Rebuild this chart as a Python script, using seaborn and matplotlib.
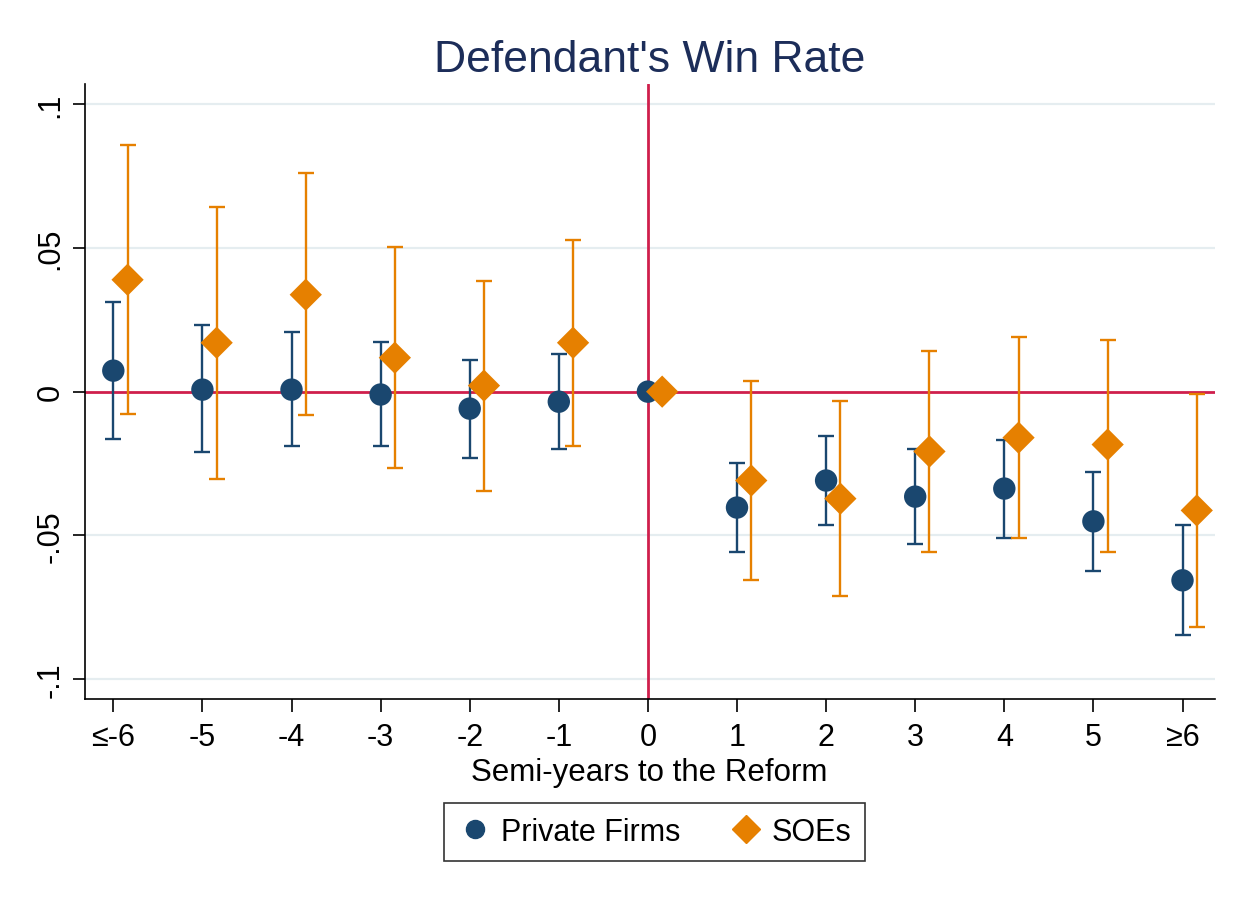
import numpy as np
import pandas as pd
import matplotlib
matplotlib.use("Agg")
import matplotlib.pyplot as plt
import seaborn as sns

# semi-years to the reform
periods = [-6, -5, -4, -3, -2, -1, 0, 1, 2, 3, 4, 5, 6]
tick_labels = ["≤-6", "-5", "-4", "-3", "-2", "-1", "0", "1", "2", "3", "4", "5", "≥6"]

# private firms: estimate and 95% CI
priv_est = [0.0073, 0.0007, 0.0007, -0.0010, -0.0059, -0.0035, 0.0, -0.0403, -0.0309, -0.0365, -0.0337, -0.0451, -0.0656]
priv_hi  = [0.0310, 0.0230, 0.0208, 0.0174, 0.0111, 0.0132, 0.0, -0.0247, -0.0153, -0.0201, -0.0167, -0.0278, -0.0465]
priv_lo  = [-0.0163, -0.0210, -0.0188, -0.0188, -0.0229, -0.0198, 0.0, -0.0559, -0.0462, -0.0528, -0.0510, -0.0625, -0.0847]

# SOEs: estimate and 95% CI
soe_est = [0.0389, 0.0170, 0.0337, 0.0118, 0.0021, 0.0170, 0.0, -0.0309, -0.0372, -0.0208, -0.0160, -0.0184, -0.0413]
soe_hi  = [0.0858, 0.0642, 0.0760, 0.0503, 0.0385, 0.0528, 0.0, 0.0038, -0.0031, 0.0142, 0.0191, 0.0180, -0.0007]
soe_lo  = [-0.0076, -0.0302, -0.0080, -0.0267, -0.0347, -0.0188, 0.0, -0.0656, -0.0712, -0.0556, -0.0510, -0.0556, -0.0820]

navy = "#1a476f"
orange = "#e68000"
red = "#cf1f4c"
grid_c = "#e5edf0"

sns.set_style("white")
plt.rcParams['font.family'] = ['Liberation Sans', 'DejaVu Sans']
plt.rcParams['text.color'] = 'black'
plt.rcParams['axes.labelcolor'] = 'black'
plt.rcParams['xtick.color'] = 'black'
plt.rcParams['ytick.color'] = 'black'

df = pd.DataFrame({
    "period": periods * 2,
    "est": priv_est + soe_est,
    "lo": priv_lo + soe_lo,
    "hi": priv_hi + soe_hi,
    "group": ["Private Firms"] * len(periods) + ["SOEs"] * len(periods),
})
offsets = {"Private Firms": 0.0, "SOEs": 0.16}
df["x"] = df["period"] + df["group"].map(offsets)

fig = plt.figure(figsize=(12.47, 9.03), dpi=100)
ax = fig.add_axes([0.068, 0.225, 0.906, 0.681])

for y in [-0.1, -0.05, 0.05, 0.1]:
    ax.axhline(y, color=grid_c, lw=1.6, zorder=0)
ax.axhline(0, color=red, lw=2, zorder=1)
ax.axvline(0, color=red, lw=2, zorder=1)

colors = {"Private Firms": navy, "SOEs": orange}
for g, sub in df.groupby("group"):
    sub = sub[sub["period"] != 0]
    ax.errorbar(sub["x"], sub["est"], yerr=[sub["est"] - sub["lo"], sub["hi"] - sub["est"]],
                fmt="none", ecolor=colors[g], elinewidth=1.7, capsize=6, capthick=1.7, zorder=2)

sns.scatterplot(data=df, x="x", y="est", hue="group", style="group", size="group",
                palette=colors, markers={"Private Firms": "o", "SOEs": "D"},
                sizes={"Private Firms": 260, "SOEs": 270},
                linewidth=0, ax=ax, zorder=3, legend=False)

ax.set_xlim(-6.32, 6.36)
ax.set_ylim(-0.1068, 0.107)
ax.set_xticks(periods)
ax.set_xticklabels(tick_labels, fontsize=22)
ax.set_yticks([-0.1, -0.05, 0, 0.05, 0.1])
ax.set_yticklabels(["-.1", "-.05", "0", ".05", ".1"], fontsize=22, rotation=90, va="center")
ax.tick_params(axis="both", direction="out", length=9, width=1.2, color="black", bottom=True, left=True)
ax.tick_params(axis="y", pad=5)
ax.tick_params(axis="x", pad=8)
ax.set_xlabel("Semi-years to the Reform", fontsize=22.5, labelpad=3)
ax.set_ylabel("")
ax.set_title("Defendant's Win Rate", fontsize=32, color="#1c2d59", pad=9)

for side in ["top", "right"]:
    ax.spines[side].set_visible(False)
for side in ["left", "bottom"]:
    ax.spines[side].set_color("black")
    ax.spines[side].set_linewidth(1.2)

handles = [
    plt.Line2D([], [], marker="o", color=navy, linestyle="none", markersize=13),
    plt.Line2D([], [], marker="D", color=orange, linestyle="none", markersize=14),
]
leg = fig.legend(handles, ["Private Firms", "SOEs"], loc="center", bbox_to_anchor=(0.525, 0.0775),
                 ncol=2, fontsize=22, frameon=True, fancybox=False, edgecolor="black",
                 handletextpad=0.3, columnspacing=1.6, borderpad=0.45, handlelength=1.1)
leg.get_frame().set_linewidth(1.2)

fig.savefig("out.png", dpi=100, facecolor="white")
